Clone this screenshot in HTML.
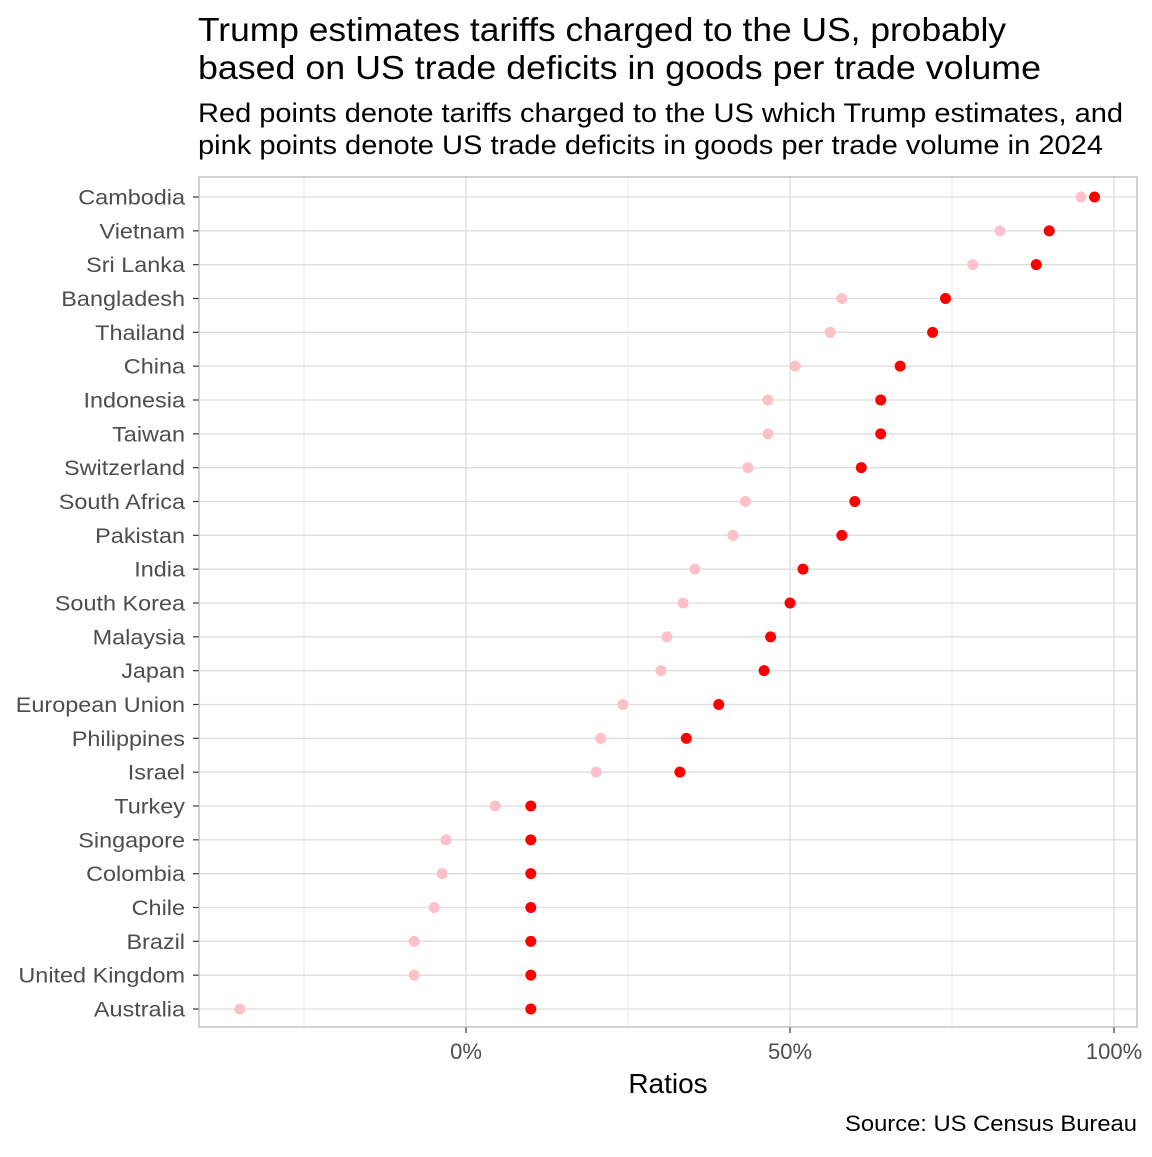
<!DOCTYPE html>
<html><head><meta charset="utf-8"><style>
body{margin:0;background:#fff;}
svg text{font-family:"Liberation Sans",sans-serif;}
</style></head><body>
<svg id="chart" width="1152" height="1152" xmlns="http://www.w3.org/2000/svg">
<rect width="1152" height="1152" fill="#fff"/>
<text x="198" y="41" font-size="33" textLength="808" lengthAdjust="spacingAndGlyphs" fill="#000">Trump estimates tariffs charged to the US, probably</text>
<text x="198" y="79" font-size="33" textLength="843" lengthAdjust="spacingAndGlyphs" fill="#000">based on US trade deficits in goods per trade volume</text>
<text x="198" y="122" font-size="27" textLength="925" lengthAdjust="spacingAndGlyphs" fill="#000">Red points denote tariffs charged to the US which Trump estimates, and</text>
<text x="198" y="154" font-size="27" textLength="905" lengthAdjust="spacingAndGlyphs" fill="#000">pink points denote US trade deficits in goods per trade volume in 2024</text>
<g id="grid"></g><g id="marks"></g><g id="labels"></g>
<rect x="199" y="177" width="938" height="850" fill="none" stroke="#b3b3b3" stroke-width="1.2"/>
<text x="668" y="1093" font-size="28" text-anchor="middle" fill="#000">Ratios</text>
<text x="1137" y="1131" font-size="22" text-anchor="end" fill="#000" textLength="292" lengthAdjust="spacingAndGlyphs">Source: US Census Bureau</text>
</svg>
<script>
const countries=["Cambodia","Vietnam","Sri Lanka","Bangladesh","Thailand","China","Indonesia","Taiwan","Switzerland","South Africa","Pakistan","India","South Korea","Malaysia","Japan","European Union","Philippines","Israel","Turkey","Singapore","Colombia","Chile","Brazil","United Kingdom","Australia"];
const tariffs=[97,90,88,74,72,67,64,64,61,60,58,52,50,47,46,39,34,33,10,10,10,10,10,10,10];
const deficits=[94.9,82.4,78.2,58,56.2,50.8,46.6,46.6,43.5,43.1,41.2,35.3,33.5,31,30.1,24.2,20.8,20.1,4.5,-3.1,-3.7,-4.9,-8,-8,-34.9];
const majorTicks=[0,50,100];
const tickLabels=["0%","50%","100%"];
const minorTicks=[-25,25,75];
const NS="http://www.w3.org/2000/svg";
const x=v=>466+v*6.48;
const y=i=>197+i*(1009-197)/(countries.length-1);
function mk(t,a,p){const e=document.createElementNS(NS,t);for(const k in a)e.setAttribute(k,a[k]);p.appendChild(e);return e;}
const grid=document.getElementById('grid'),marks=document.getElementById('marks'),labels=document.getElementById('labels');
minorTicks.forEach(v=>{const l=mk('line',{x1:x(v),x2:x(v),y1:177,y2:1027,stroke:'#ebebeb','stroke-width':1},grid);

});
majorTicks.forEach((v,i)=>{const l=mk('line',{x1:x(v),x2:x(v),y1:177,y2:1027,stroke:'#dedede','stroke-width':1.3},grid);


mk('line',{x1:x(v),x2:x(v),y1:1027,y2:1033,stroke:'#333','stroke-width':1.2},grid);
const t=mk('text',{x:x(v),y:1059,'font-size':22,'text-anchor':'middle',fill:'#4d4d4d'},labels);t.textContent=tickLabels[i];

});
countries.forEach((c,i)=>{const yy=y(i);
const l=mk('line',{x1:199,x2:1137,y1:yy,y2:yy,stroke:'#dedede','stroke-width':1.3},grid);


mk('line',{x1:193,x2:199,y1:yy,y2:yy,stroke:'#333','stroke-width':1.2},grid);
const t=mk('text',{x:185,y:yy+7.5,'font-size':21.5,'text-anchor':'end',fill:'#4d4d4d',transform:'translate(185 0) scale(1.09 1) translate(-185 0)'},labels);t.textContent=c;


const p=mk('circle',{cx:x(deficits[i]),cy:yy,r:5.5,fill:'#ffc0cb'},marks);


const r=mk('circle',{cx:x(tariffs[i]),cy:yy,r:5.5,fill:'#ff0000'},marks);

});
</script>
</body></html>
